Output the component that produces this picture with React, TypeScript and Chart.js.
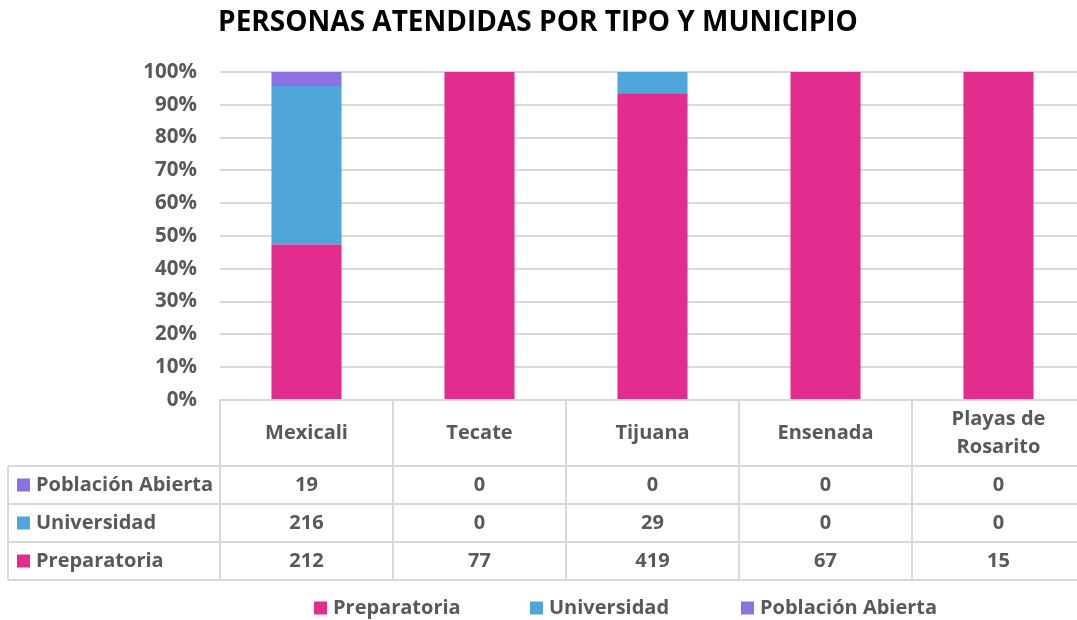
import React, { useEffect, useRef } from "react";
import { Chart, registerables } from "chart.js";

Chart.register(...registerables);

const categories: string[][] = [["Mexicali"], ["Tecate"], ["Tijuana"], ["Ensenada"], ["Playas de", "Rosarito"]];
const preparatoria = [212, 77, 419, 67, 15];
const universidad = [216, 0, 29, 0, 0];
const poblacionAbierta = [19, 0, 0, 0, 0];
const seriesNames = ["Preparatoria", "Universidad", "Población Abierta"];
const seriesColors = ["#E32D8E", "#4FA6DB", "#8B72E0"];
const yTicks = [0, 10, 20, 30, 40, 50, 60, 70, 80, 90, 100];
const titleText = "PERSONAS ATENDIDAS POR TIPO Y MUNICIPIO";

const FONT = "'Open Sans', sans-serif";
const GRAY = "#595959";
const LINE = "#D9D9D9";

const totals = preparatoria.map((v, i) => v + universidad[i] + poblacionAbierta[i]);
const pct = (arr: number[]) => arr.map((v, i) => (totals[i] ? (v / totals[i]) * 100 : 0));

const tablePlugin = {
  id: "tablePlugin",
  afterDraw(chart: any) {
    const ctx = chart.ctx as CanvasRenderingContext2D;
    const area = chart.chartArea;
    const xs = chart.scales.x;
    const n = categories.length;
    const colW = (area.right - area.left) / n;
    const top = area.bottom;
    const headerBottom = top + 66;
    const rowH = 38;
    const rows = [
      { name: seriesNames[2], color: seriesColors[2], values: poblacionAbierta },
      { name: seriesNames[1], color: seriesColors[1], values: universidad },
      { name: seriesNames[0], color: seriesColors[0], values: preparatoria },
    ];
    const tableBottom = headerBottom + rowH * rows.length;
    const leftEdge = 8;

    ctx.save();
    // Title
    ctx.fillStyle = "#000000";
    ctx.font = `bold 28px ${FONT}`;
    ctx.textAlign = "center";
    ctx.textBaseline = "middle";
    ctx.fillText(titleText, 538, 23);

    // lines
    ctx.strokeStyle = LINE;
    ctx.lineWidth = 2;
    const hline = (x1: number, x2: number, y: number) => {
      ctx.beginPath();
      ctx.moveTo(x1, y);
      ctx.lineTo(x2, y);
      ctx.stroke();
    };
    const vline = (x: number, y1: number, y2: number) => {
      ctx.beginPath();
      ctx.moveTo(x, y1);
      ctx.lineTo(x, y2);
      ctx.stroke();
    };
    hline(area.left - 1, area.right, top);
    for (let r = 0; r <= rows.length; r++) hline(leftEdge, area.right, headerBottom + r * rowH);
    vline(leftEdge, headerBottom, tableBottom);
    for (let c = 0; c <= n; c++) vline(area.left + c * colW, top, tableBottom);

    // header text
    ctx.fillStyle = GRAY;
    ctx.font = `bold 20px ${FONT}`;
    ctx.textAlign = "center";
    ctx.textBaseline = "middle";
    categories.forEach((lines, i) => {
      const cx = xs.getPixelForValue(i);
      const cy = (top + headerBottom) / 2;
      const lh = 28;
      lines.forEach((ln, k) => {
        ctx.fillText(ln, cx, cy + (k - (lines.length - 1) / 2) * lh);
      });
    });

    // rows
    rows.forEach((row, r) => {
      const cy = headerBottom + r * rowH + rowH / 2;
      ctx.fillStyle = row.color;
      ctx.fillRect(17, cy - 6.5, 13, 13);
      ctx.fillStyle = GRAY;
      ctx.textAlign = "left";
      ctx.fillText(row.name, 36, cy);
      ctx.textAlign = "center";
      row.values.forEach((v, i) => {
        ctx.fillText(String(v), xs.getPixelForValue(i), cy);
      });
    });

    // legend
    const legendX = [314, 530, 741];
    const legendY = 608;
    seriesNames.forEach((name, i) => {
      ctx.fillStyle = seriesColors[i];
      ctx.fillRect(legendX[i], legendY - 6.5, 13, 13);
      ctx.fillStyle = GRAY;
      ctx.textAlign = "left";
      ctx.fillText(name, legendX[i] + 19, legendY);
    });
    ctx.restore();
  },
};

export default function App() {
  const ref = useRef<HTMLCanvasElement>(null);
  useEffect(() => {
    if (!ref.current) return;
    const chart = new Chart(ref.current, {
      type: "bar",
      data: {
        labels: categories.map((c) => c.join(" ")),
        datasets: [
          { label: seriesNames[0], data: pct(preparatoria), backgroundColor: seriesColors[0] },
          { label: seriesNames[1], data: pct(universidad), backgroundColor: seriesColors[1] },
          { label: seriesNames[2], data: pct(poblacionAbierta), backgroundColor: seriesColors[2] },
        ],
      },
      options: {
        responsive: false,
        animation: false,
        layout: { padding: { left: 0, top: 72, right: 1100 - 1085, bottom: 620 - 400 } },
        datasets: { bar: { barPercentage: 0.405, categoryPercentage: 1, borderWidth: 0 } },
        plugins: { legend: { display: false }, title: { display: false }, tooltip: { enabled: false } },
        scales: {
          x: { stacked: true, display: false },
          y: {
            stacked: true,
            min: 0,
            max: 100,
            afterFit: (s: any) => {
              s.width = 220;
            },
            afterBuildTicks: (s: any) => {
              s.ticks = yTicks.map((v) => ({ value: v }));
            },
            border: { display: false },
            grid: { color: LINE, lineWidth: 2, drawTicks: false },
            ticks: {
              padding: 23,
              color: GRAY,
              font: { family: FONT, size: 20.5, weight: "bold" },
              callback: (v: any) => v + "%",
            },
          },
        },
      },
      plugins: [tablePlugin],
    });
    return () => chart.destroy();
  }, []);
  return (
    <div style={{ position: "fixed", left: 0, top: 0, width: 1077, height: 620, overflow: "hidden", background: "#fff" }}>
      <canvas ref={ref} width={1100} height={620} style={{ display: "block" }} />
    </div>
  );
}
